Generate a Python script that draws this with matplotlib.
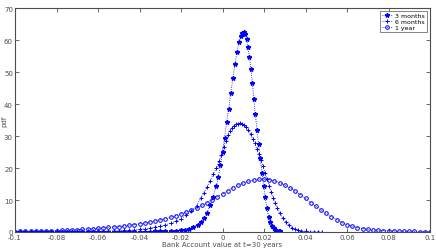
import matplotlib
matplotlib.use('Agg')
import matplotlib.pyplot as plt

# 3 months
x_3m = [-0.1, -0.0975, -0.095, -0.0925, -0.09, -0.0875, -0.085, -0.0825, -0.08, -0.0775,
        -0.075, -0.0725, -0.07, -0.0675, -0.065, -0.0625, -0.06, -0.0575, -0.055, -0.0525,
        -0.05, -0.0475, -0.045, -0.0425, -0.04, -0.0375, -0.035, -0.0325, -0.03, -0.0275,
        -0.025, -0.0225, -0.02, -0.018, -0.016, -0.014, -0.012, -0.0105, -0.009, -0.0075,
        -0.006, -0.0045, -0.003, -0.002, -0.001, 0.0, 0.001, 0.002, 0.003, 0.004,
        0.005, 0.006, 0.007, 0.008, 0.0088, 0.0095, 0.0102, 0.0109, 0.0116, 0.0123,
        0.013, 0.0137, 0.0144, 0.0151, 0.0158, 0.0166, 0.0174, 0.0182, 0.019, 0.0198,
        0.0206, 0.0214, 0.0222, 0.023, 0.0238, 0.0246, 0.0254, 0.0262, 0.027, 0.0278]
y_3m = [0.05, 0.05, 0.05, 0.05, 0.05, 0.05, 0.05, 0.05, 0.05, 0.05,
        0.05, 0.05, 0.05, 0.05, 0.05, 0.05, 0.05, 0.06, 0.06, 0.07,
        0.07, 0.08, 0.09, 0.1, 0.11, 0.13, 0.15, 0.17, 0.2, 0.25,
        0.3, 0.4, 0.55, 0.75, 1.0, 1.5, 2.3, 3.2, 4.3, 6.0,
        8.3, 11.0, 14.5, 17.3, 21.0, 25.0, 29.5, 34.5, 38.5, 43.5,
        48.0, 52.5, 56.3, 59.5, 61.3, 62.3, 62.4, 61.8, 60.3, 57.8,
        54.7, 51.0, 46.5, 41.5, 36.8, 32.0, 27.5, 23.0, 18.5, 14.5,
        10.8, 7.5, 4.8, 3.0, 1.8, 1.1, 0.7, 0.45, 0.3, 0.2]

# 6 months
x_6m = [-0.1, -0.0975, -0.095, -0.0925, -0.09, -0.0875, -0.085, -0.0825, -0.08, -0.0775,
        -0.075, -0.0725, -0.07, -0.0675, -0.065, -0.0625, -0.06, -0.0575, -0.055, -0.0525,
        -0.05, -0.0475, -0.045, -0.0425, -0.04, -0.0375, -0.035, -0.0325, -0.03, -0.0275,
        -0.025, -0.0225, -0.02, -0.0175, -0.015, -0.0125, -0.0105, -0.009, -0.0075, -0.006,
        -0.0045, -0.003, -0.0015, -0.0005, 0.0005, 0.0015, 0.0025, 0.0035, 0.0045, 0.0055,
        0.0065, 0.0075, 0.0085, 0.0095, 0.0105, 0.0115, 0.0125, 0.0135, 0.0145, 0.0155,
        0.0165, 0.0175, 0.0185, 0.0195, 0.0205, 0.0215, 0.0225, 0.0235, 0.0245, 0.0255,
        0.0265, 0.0275, 0.029, 0.0305, 0.032, 0.0335, 0.035, 0.0365, 0.038, 0.04,
        0.042, 0.044, 0.046, 0.048]
y_6m = [0.05, 0.05, 0.06, 0.06, 0.07, 0.08, 0.09, 0.1, 0.11, 0.12,
        0.13, 0.14, 0.15, 0.17, 0.19, 0.22, 0.25, 0.28, 0.31, 0.35,
        0.4, 0.47, 0.55, 0.65, 0.8, 1.0, 1.2, 1.5, 1.8, 2.2,
        2.8, 3.4, 4.2, 5.2, 6.5, 8.2, 10.5, 12.3, 14.0, 16.0,
        18.0, 20.0, 22.3, 24.2, 26.5, 28.5, 30.3, 31.6, 32.5, 33.2,
        33.6, 33.9, 34.0, 33.8, 33.4, 32.8, 31.8, 30.6, 29.2, 27.7,
        26.0, 24.3, 22.5, 20.5, 18.5, 16.5, 14.5, 12.5, 10.7, 9.0,
        7.4, 6.0, 4.4, 3.1, 2.1, 1.4, 0.9, 0.6, 0.4, 0.25,
        0.15, 0.1, 0.07, 0.05]

# 1 year
x_1y = [-0.1, -0.0975, -0.095, -0.0925, -0.09, -0.0875, -0.085, -0.0825, -0.08, -0.0775,
        -0.075, -0.0725, -0.07, -0.0675, -0.065, -0.0625, -0.06, -0.0575, -0.055, -0.0525,
        -0.05, -0.0475, -0.045, -0.0425, -0.04, -0.0375, -0.035, -0.0325, -0.03, -0.0275,
        -0.025, -0.0225, -0.02, -0.0175, -0.015, -0.0125, -0.01, -0.0075, -0.005, -0.0025,
        0.0, 0.0025, 0.005, 0.0075, 0.01, 0.0125, 0.015, 0.0175, 0.02, 0.0225,
        0.025, 0.0275, 0.03, 0.0325, 0.035, 0.0375, 0.04, 0.0425, 0.045, 0.0475,
        0.05, 0.0525, 0.055, 0.0575, 0.06, 0.0625, 0.065, 0.0675, 0.07, 0.0725,
        0.075, 0.0775, 0.08, 0.0825, 0.085, 0.0875, 0.09, 0.0925, 0.095, 0.0975, 0.1]
y_1y = [0.15, 0.17, 0.19, 0.22, 0.25, 0.29, 0.33, 0.39, 0.45, 0.52,
        0.59, 0.67, 0.75, 0.85, 0.94, 1.04, 1.15, 1.28, 1.41, 1.55,
        1.7, 1.9, 2.1, 2.3, 2.55, 2.8, 3.1, 3.45, 3.8, 4.2,
        4.6, 5.1, 5.6, 6.2, 6.8, 7.5, 8.3, 9.2, 10.1, 11.0,
        11.9, 12.9, 13.8, 14.6, 15.3, 15.8, 16.2, 16.5, 16.5, 16.3,
        16.0, 15.4, 14.7, 13.8, 12.8, 11.7, 10.5, 9.2, 8.0, 6.9,
        5.8, 4.8, 3.9, 2.9, 2.3, 1.8, 1.4, 1.05, 0.8, 0.65,
        0.52, 0.43, 0.35, 0.3, 0.25, 0.21, 0.18, 0.16, 0.14, 0.12, 0.1]

x_ticks = [-0.1, -0.08, -0.06, -0.04, -0.02, 0, 0.02, 0.04, 0.06, 0.08, 0.1]
x_tick_labels = ['-0.1', '-0.08', '-0.06', '-0.04', '-0.02', '0', '0.02', '0.04', '0.06', '0.08', '0.1']
y_ticks = [0, 10, 20, 30, 40, 50, 60, 70]

fig = plt.figure(figsize=(4.36, 2.53), dpi=100)
ax = fig.add_axes([15 / 436, 20 / 253, 415 / 436, 224 / 253])

ax.plot(x_3m, y_3m, linestyle=':', color='b', linewidth=0.6,
        marker='*', markersize=3.2, label='3 months')
ax.plot(x_6m, y_6m, linestyle=':', color='b', linewidth=0.6,
        marker='+', markersize=3.5, markeredgewidth=0.7, label='6 months')
ax.plot(x_1y, y_1y, linestyle=':', color='b', linewidth=0.6,
        marker='o', markersize=2.6, markerfacecolor='none', markeredgewidth=0.7,
        label='1 year')

ax.set_xlim(-0.1, 0.1)
ax.set_ylim(0, 70)
ax.set_xticks(x_ticks)
ax.set_xticklabels(x_tick_labels)
ax.set_yticks(y_ticks)
ax.tick_params(direction='in', length=3, width=0.6, labelsize=5, colors='0.3',
               top=True, right=True, pad=1.5)
for s in ax.spines.values():
    s.set_color('0.3')
    s.set_linewidth(0.8)

ax.set_xlabel('Bank Account value at t=30 years', fontsize=5, color='0.3', labelpad=0.5)
ax.set_ylabel('pdf', fontsize=5, color='0.3')
ax.yaxis.set_label_coords(-0.019, 0.5)

leg = ax.legend(loc='upper right', fontsize=4.5, frameon=True, fancybox=False,
                borderpad=0.3, labelspacing=0.1, handlelength=1.8, handletextpad=0.4,
                borderaxespad=0.5)
leg.get_frame().set_edgecolor('0.3')
leg.get_frame().set_linewidth(0.6)

plt.savefig('out.png', dpi=100)
